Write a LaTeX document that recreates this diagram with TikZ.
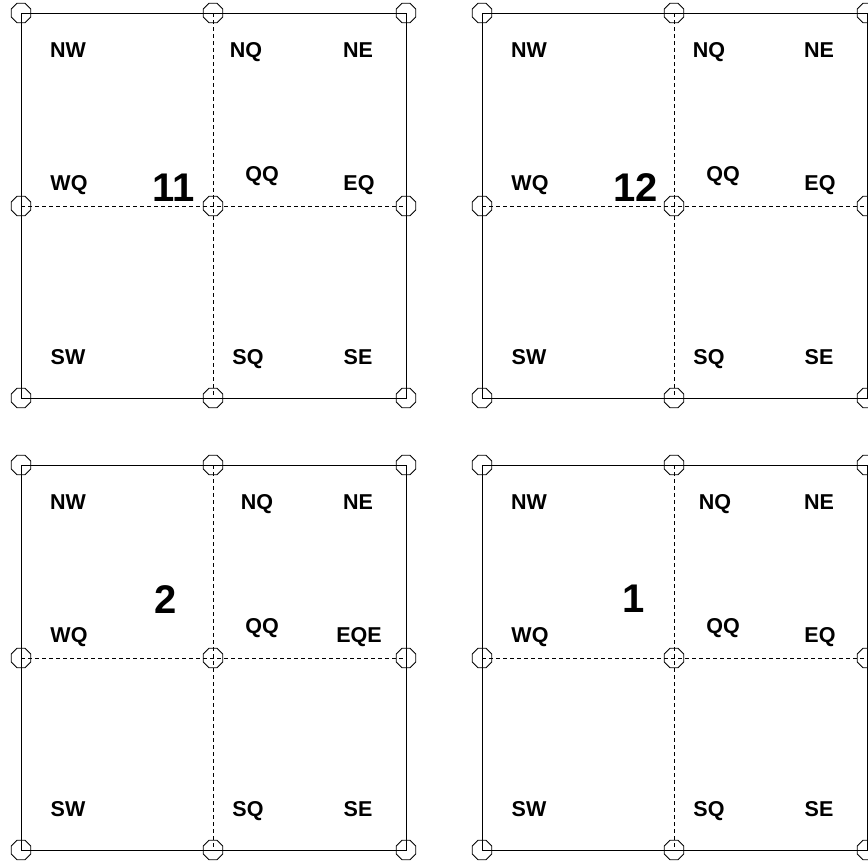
\documentclass[tikz,border=0pt]{standalone}
\usepackage{fontspec}
\setmainfont{Liberation Sans}
\usetikzlibrary{shapes.geometric}

\tikzset{
  oct/.style={draw, regular polygon, regular polygon sides=8, minimum size=21pt, inner sep=0pt, line width=0.8pt},
  frame/.style={line width=0.9pt},
  grid/.style={line width=0.7pt, dash pattern={on 4pt off 3pt}},
  lbl/.style={font=\bfseries\fontsize{21.5}{21.5}\selectfont, inner sep=0pt, text height=15pt, text depth=0pt},
  num/.style={font=\bfseries\fontsize{40}{40}\selectfont, inner sep=0pt, text height=28.6pt, text depth=0pt}
}

\begin{document}
\begin{tikzpicture}[x=1pt,y=-1pt]
\useasboundingbox (0,0) rectangle (868,862);

\foreach \ox/\oy/\p/\n/\nx/\ny/\qx/\eq in {21/13/a/11/152.5/174/225/EQ, 482/13/b/12/154/174/227/EQ, 21/465/c/2/144.5/134/236/EQE, 482/465/d/1/151.5/133/233/EQ}
{
\begin{scope}[shift={(\ox,\oy)}]
% Octagons
\node[oct] (\p-nw) at (0,0) {};
\node[oct] (\p-n) at (192,0) {};
\node[oct] (\p-ne) at (385,0) {};
\node[oct] (\p-w) at (0,193) {};
\node[oct] (\p-c) at (192,193) {};
\node[oct] (\p-e) at (385,193) {};
\node[oct] (\p-sw) at (0,385) {};
\node[oct] (\p-s) at (192,385) {};
\node[oct] (\p-se) at (385,385) {};
% Frame and quarter lines
\draw[frame] (\p-nw.center) -- (\p-ne.center) -- (\p-se.center) -- (\p-sw.center) -- cycle;
\draw[grid] (\p-n.center) -- (\p-s.center);
\draw[grid] (\p-w.center) -- (\p-e.center);
% Labels
\node[lbl] (\p-tnw) at (47,37) {NW};
\node[lbl] (\p-tnq) at (\qx,37) {NQ};
\node[lbl] (\p-tne) at (337,37) {NE};
\node[lbl] (\p-twq) at (48,170) {WQ};
\node[lbl] (\p-tqq) at (241,161) {QQ};
\node[lbl] (\p-teq) at (338,170) {\eq};
\node[lbl] (\p-tsw) at (47,344) {SW};
\node[lbl] (\p-tsq) at (227,344) {SQ};
\node[lbl] (\p-tse) at (337,344) {SE};
\node[num] (\p-num) at (\nx,\ny) {\n};
\end{scope}
}

\end{tikzpicture}
\end{document}
